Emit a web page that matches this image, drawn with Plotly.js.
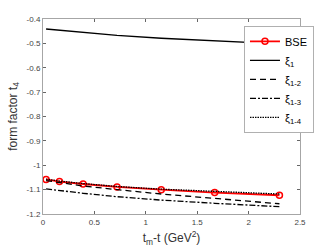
<!DOCTYPE html>
<html>
<head>
<meta charset="utf-8">
<script src="https://cdn.plot.ly/plotly-3.0.1.min.js"></script>
<style>html,body{margin:0;padding:0;background:#fff;}#chart{width:332px;height:249px;}</style>
</head>
<body>
<div id="chart"></div>
<script>
// x values (t_m - t, GeV^2)
const xVals = [0.03, 0.16, 0.39, 0.72, 1.15, 1.67, 2.30];
// series
const bse   = [-1.058, -1.067, -1.077, -1.089, -1.100, -1.112, -1.123];
const xi1   = [-0.441, -0.446, -0.456, -0.467, -0.479, -0.490, -0.502];
const xi12  = [-1.063, -1.071, -1.085, -1.100, -1.118, -1.136, -1.158];
const xi13  = [-1.097, -1.104, -1.115, -1.129, -1.143, -1.156, -1.170];
const xi14  = [-1.057, -1.065, -1.075, -1.087, -1.098, -1.108, -1.118];
const seriesNames = ['BSE', 'ξ<sub>1</sub>', 'ξ<sub>1-2</sub>', 'ξ<sub>1-3</sub>', 'ξ<sub>1-4</sub>'];
// tick labels
const xTickVals = [0, 0.5, 1, 1.5, 2, 2.5];
const xTickText = ['0', '0.5', '1', '1.5', '2', '2.5'];
const yTickVals = [-0.4, -0.5, -0.6, -0.7, -0.8, -0.9, -1.0, -1.1, -1.2];
const yTickText = ['-0.4', '-0.5', '-0.6', '-0.7', '-0.8', '-0.9', '-1', '-1.1', '-1.2'];

const font = 'Liberation Sans, Arial, Helvetica, sans-serif';
const traces = [
  {x: xVals, y: bse, name: seriesNames[0], mode: 'lines+markers',
   line: {color: '#ff0000', width: 1.8},
   marker: {symbol: 'circle-open', size: 6, color: '#ff0000', line: {width: 1.5, color: '#ff0000'}}},
  {x: xVals, y: xi1, name: seriesNames[1], mode: 'lines', line: {color: '#000', width: 1.3, dash: 'solid'}},
  {x: xVals, y: xi12, name: seriesNames[2], mode: 'lines', line: {color: '#000', width: 1.3, dash: '6px,4px'}},
  {x: xVals, y: xi13, name: seriesNames[3], mode: 'lines', line: {color: '#000', width: 1.3, dash: '6px,2px,2px,2px'}},
  {x: xVals, y: xi14, name: seriesNames[4], mode: 'lines', line: {color: '#000', width: 1.3, dash: '1.5px,1px'}}
];

const axisCommon = {
  showgrid: false, zeroline: false, showline: true, mirror: 'ticks',
  linecolor: '#a6a6a6', linewidth: 1, ticks: 'inside', ticklen: 3,
  tickcolor: '#666', tickfont: {family: font, size: 8, color: '#444'}
};

const layout = {
  width: 332, height: 249,
  margin: {l: 43, r: 32, t: 19, b: 35},
  paper_bgcolor: '#fff', plot_bgcolor: '#fff',
  font: {family: font},
  showlegend: true,
  xaxis: Object.assign({}, axisCommon, {
    range: [0, 2.5], tickvals: xTickVals, ticktext: xTickText,
    title: {text: 't<sub>m</sub>-t (GeV<sup>2</sup>)', font: {family: font, size: 12, color: '#333'}, standoff: 8}
  }),
  yaxis: Object.assign({}, axisCommon, {
    range: [-1.2, -0.4], tickvals: yTickVals, ticktext: yTickText,
    title: {text: 'form factor t<sub>4</sub>', font: {family: font, size: 12, color: '#333'}, standoff: 6}
  }),
  legend: {
    x: 0.782, y: 0.965, xanchor: 'left', yanchor: 'top',
    bgcolor: '#fff', bordercolor: '#b0b0b0', borderwidth: 1,
    font: {family: font, size: 11, color: '#000'},
    itemwidth: 30, tracegroupgap: 0
  }
};

Plotly.newPlot('chart', traces, layout, {displayModeBar: false, staticPlot: true});
</script>
</body>
</html>
